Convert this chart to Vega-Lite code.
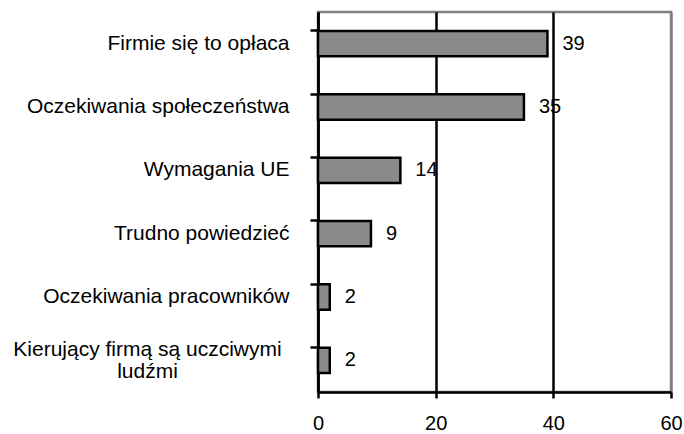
{
  "$schema": "https://vega.github.io/schema/vega-lite/v6.json",
  "width": 353,
  "height": 380,
  "autosize": {"type": "none"},
  "padding": {"left": 318, "top": 12, "right": 13, "bottom": 42},
  "background": "white",
  "config": {
    "view": {"stroke": "#808080", "strokeWidth": 2.5},
    "font": "Liberation Sans"
  },
  "data": {
    "values": [
      {"reason": "Firmie się to opłaca", "count": 39},
      {"reason": "Oczekiwania społeczeństwa", "count": 35},
      {"reason": "Wymagania UE", "count": 14},
      {"reason": "Trudno powiedzieć", "count": 9},
      {"reason": "Oczekiwania pracowników", "count": 2},
      {"reason": "Kierujący firmą są uczciwymi|ludźmi", "count": 2}
    ]
  },
  "encoding": {
    "y": {
      "field": "reason",
      "type": "nominal",
      "sort": null,
      "scale": {"paddingInner": 0.6, "paddingOuter": 0.3},
      "axis": {
        "title": null,
        "grid": false,
        "domainColor": "black",
        "domainWidth": 2.5,
        "tickColor": "black",
        "tickWidth": 2.5,
        "tickSize": 8,
        "bandPosition": 0,
        "labelFont": "Liberation Sans",
        "labelFontSize": 21,
        "labelColor": "black",
        "labelAlign": {"condition": {"test": "indexof(datum.value, '|') >= 0", "value": "center"}, "value": "right"},
        "labelPadding": {"condition": {"test": "indexof(datum.value, '|') >= 0", "value": 163}, "value": 21},
        "labelOffset": {"condition": {"test": "indexof(datum.value, '|') >= 0", "value": -10}, "value": 0},
        "labelLimit": 400,
        "labelLineHeight": 22,
        "labelExpr": "split(datum.value, '|')"
      }
    },
    "x": {
      "field": "count",
      "type": "quantitative",
      "scale": {"domain": [0, 60], "nice": false},
      "axis": {
        "title": null,
        "values": [0, 20, 40, 60],
        "grid": true,
        "gridColor": {"condition": {"test": "datum.value == 60", "value": "#808080"}, "value": "black"},
        "gridWidth": 2.5,
        "domainColor": "black",
        "domainWidth": 2.5,
        "tickColor": "black",
        "tickSize": 6,
        "tickWidth": 2.5,
        "labelFont": "Liberation Sans",
        "labelFontSize": 20,
        "labelColor": "black",
        "labelPadding": 15,
        "labelFlush": false,
        "labelOverlap": false
      }
    }
  },
  "layer": [
    {"mark": {"type": "bar", "fill": "#8a8a8a", "stroke": "black", "strokeWidth": 2.5}},
    {
      "mark": {"type": "text", "align": "left", "baseline": "middle", "dx": 15, "fontSize": 20, "font": "Liberation Sans", "color": "black"},
      "encoding": {"text": {"field": "count", "type": "quantitative"}}
    }
  ]
}
